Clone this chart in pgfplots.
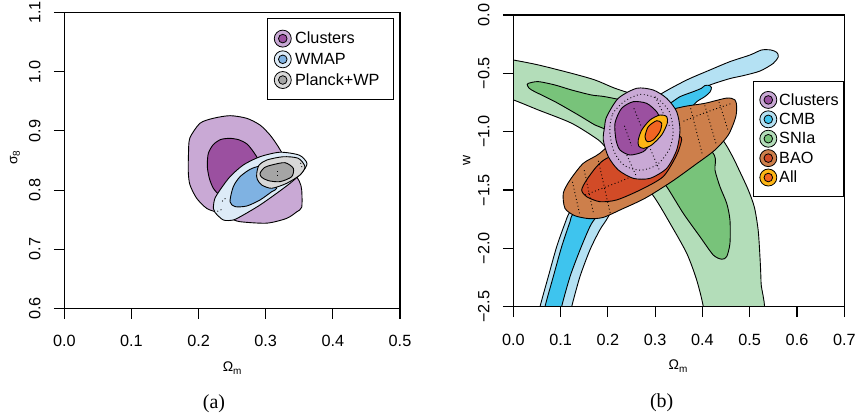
\documentclass[border=0pt]{standalone}
\usepackage{fontspec}
\setmainfont{Liberation Sans}
\newfontfamily\seriffont{Liberation Serif}
\usepackage{pgfplots}
\pgfplotsset{compat=1.18}

\definecolor{clO}{HTML}{C9A9D5}
\definecolor{clI}{HTML}{9B50A0}
\definecolor{wmO}{HTML}{DDEBF7}
\definecolor{wmI}{HTML}{7FB2E2}
\definecolor{plO}{HTML}{D8D8D8}
\definecolor{plI}{HTML}{A5A5A5}
\definecolor{cmO}{HTML}{B4E1F3}
\definecolor{cmI}{HTML}{3EC4EE}
\definecolor{snO}{HTML}{B3DDB9}
\definecolor{snI}{HTML}{78C37A}
\definecolor{baO}{HTML}{CD7F4B}
\definecolor{baI}{HTML}{D24B27}
\definecolor{alO}{HTML}{FDB515}
\definecolor{alI}{HTML}{F26522}

\pgfplotsset{
  myaxis/.style={
    scale only axis,
    axis on top,
    axis line style={line width=1.1bp},
    every tick/.style={line width=1.1bp, black},
    tick align=outside,
    major tick length=10.5bp,
    tick pos=left,
    ticklabel style={font=\fontsize{16.3}{19}\selectfont},
    xticklabel style={anchor=center},
    xticklabel shift=22.5bp,
    yticklabel style={anchor=center, rotate=90},
    yticklabel shift=19bp,
    label style={font=\fontsize{14}{16}\selectfont},
  },
  ct/.style={draw=black, line width=0.9bp, fill=#1, smooth cycle, tension=0.45},
  dt/.style={draw=black, line width=0.9bp, dash pattern=on 0.9bp off 2.6bp},
  lgimg/.style 2 args={legend image code/.code={
     \draw[line width=0.8bp, fill=#1] (0bp,0bp) circle (8.5bp);
     \draw[line width=0.8bp, fill=#2] (0bp,0bp) circle (4.3bp);}},
}

\begin{document}
\begin{tikzpicture}
% ---------------- panel (a)
\begin{axis}[myaxis,
  at={(64.3bp,110.7bp)}, anchor=south west,
  width=335.7bp, height=295.6bp,
  xmin=0, xmax=0.5, ymin=0.6, ymax=1.1,
  xtick={0,0.1,0.2,0.3,0.4,0.5},
  xticklabels={0.0,0.1,0.2,0.3,0.4,0.5},
  ytick={0.6,0.7,0.8,0.9,1.0,1.1},
  yticklabels={0.6,0.7,0.8,0.9,1.0,1.1},
  xlabel={Ω\raisebox{-0.35ex}{\fontsize{10}{10}\selectfont m}},
  xlabel style={at={(axis description cs:0.5,-0.2030)}, anchor=center},
  ylabel={σ\raisebox{-0.35ex}{\fontsize{10}{10}\selectfont 8}},
  ylabel style={at={(axis description cs:-0.1469,0.51)}, anchor=center},
  legend style={at={(0.982,0.981)}, anchor=north east, draw=black, line width=1bp,
    fill=white, font=\fontsize{16.3}{19}\selectfont,
    inner xsep=6bp, inner ysep=10.9bp, column sep=1.5bp, row sep=2.9bp},
  legend cell align=left,
]
\addlegendimage{lgimg={clO}{clI}}
\addlegendimage{lgimg={wmO}{wmI}}
\addlegendimage{lgimg={plO}{plI}}
\legend{\makebox[90.3bp][l]{Clusters},\makebox[90.3bp][l]{WMAP},\makebox[90.3bp][l]{Planck+WP}}

% Clusters
\addplot[ct=clO] coordinates {(0.1847,0.830)(0.1850,0.862)(0.1870,0.888)(0.2021,0.913)(0.2220,0.9214)(0.2468,0.9258)(0.2717,0.9214)(0.2915,0.910)(0.3064,0.8931)(0.3187,0.8733)(0.336,0.840)(0.350,0.815)(0.3536,0.800)(0.3536,0.771)(0.346,0.763)(0.331,0.752)(0.3015,0.744)(0.2617,0.7465)(0.248,0.752)(0.228,0.762)(0.2121,0.769)(0.1972,0.786)(0.1872,0.8086)};
\addplot[ct=clI] coordinates {(0.213,0.84)(0.2145,0.862)(0.222,0.877)(0.2330,0.8855)(0.2468,0.8875)(0.2600,0.8850)(0.2720,0.878)(0.2815,0.865)(0.290,0.848)(0.288,0.825)(0.270,0.805)(0.245,0.795)(0.2319,0.7917)(0.222,0.803)(0.216,0.82)};
% WMAP
\addplot[ct=wmO] coordinates {(0.222,0.769)(0.2245,0.762)(0.2368,0.7494)(0.2517,0.7494)(0.2666,0.7578)(0.2915,0.7747)(0.3163,0.7945)(0.3362,0.8114)(0.3536,0.829)(0.3615,0.845)(0.3500,0.8590)(0.3213,0.8640)(0.2915,0.8564)(0.2666,0.8424)(0.2468,0.8226)(0.2319,0.8001)(0.2240,0.785)};
\addplot[ct=wmI] coordinates {(0.2468,0.7803)(0.2517,0.8057)(0.2617,0.8226)(0.2766,0.8350)(0.2900,0.8400)(0.300,0.835)(0.312,0.82)(0.3163,0.803)(0.3089,0.7972)(0.2915,0.7832)(0.2717,0.7730)(0.2543,0.7720)};
\addplot[dt] coordinates {(0.235,0.781)(0.242,0.788)};
\addplot[dt] coordinates {(0.228,0.764)(0.236,0.768)};
% Planck+WP
\addplot[ct=plO] coordinates {(0.2866,0.8283)(0.2900,0.842)(0.3015,0.8508)(0.3262,0.8564)(0.3485,0.8537)(0.3585,0.8395)(0.3510,0.8255)(0.3312,0.8114)(0.3089,0.8030)(0.2940,0.8086)(0.2874,0.8182)};
\addplot[ct=plI] coordinates {(0.2915,0.8283)(0.2980,0.838)(0.3089,0.8424)(0.3287,0.8463)(0.3411,0.8368)(0.3387,0.8226)(0.3213,0.8142)(0.3039,0.8159)(0.2940,0.8216)};
\addplot[dt] coordinates {(0.318,0.832)(0.318,0.824)};
\addplot[dt] coordinates {(0.352,0.846)(0.354,0.838)};
\end{axis}

% ---------------- panel (b)
\begin{axis}[myaxis,
  at={(513.3bp,112.3bp)}, anchor=south west,
  width=331bp, height=291.7bp,
  xmin=0, xmax=0.7, ymin=-2.5, ymax=0,
  xtick={0,0.1,0.2,0.3,0.4,0.5,0.6,0.7},
  xticklabels={0.0,0.1,0.2,0.3,0.4,0.5,0.6,0.7},
  ytick={-2.5,-2,-1.5,-1,-0.5,0},
  yticklabels={−2.5,−2.0,−1.5,−1.0,−0.5,0.0},
  xlabel={Ω\raisebox{-0.35ex}{\fontsize{10}{10}\selectfont m}},
  xlabel style={at={(axis description cs:0.4976,-0.2030)}, anchor=center},
  ylabel={w},
  ylabel style={at={(axis description cs:-0.1408,0.50)}, anchor=center},
  legend style={at={(1,0.774)}, anchor=north east, draw=black, line width=1bp,
    fill=white, font=\fontsize{16.3}{19}\selectfont,
    inner xsep=6bp, inner ysep=9.6bp, column sep=0bp, row sep=1.6bp},
  legend cell align=left,
]
\addlegendimage{lgimg={clO}{clI}}
\addlegendimage{lgimg={cmO}{cmI}}
\addlegendimage{lgimg={snO}{snI}}
\addlegendimage{lgimg={baO}{baI}}
\addlegendimage{lgimg={alO}{alI}}
\legend{\makebox[56.6bp][l]{Clusters},\makebox[56.6bp][l]{CMB},\makebox[56.6bp][l]{SNIa},\makebox[56.6bp][l]{BAO},\makebox[56.6bp][l]{All}}

% SNIa
\addplot[ct=snO] coordinates {(-0.02,-0.38)(0,-0.386)(0.0529,-0.428)(0.1235,-0.5)(0.1728,-0.557)(0.215,-0.628)(0.28,-0.72)(0.33,-0.85)(0.40,-0.98)(0.44,-1.06)(0.462,-1.20)(0.48,-1.35)(0.497,-1.5)(0.51,-1.65)(0.518,-1.85)(0.522,-2.1)(0.524,-2.3)(0.525,-2.6)(0.40,-2.6)(0.4018,-2.5)(0.3878,-2.271)(0.3667,-2.042)(0.3314,-1.785)(0.2997,-1.571)(0.25,-1.3)(0.2009,-1.157)(0.18,-1.071)(0.1235,-0.928)(0.0529,-0.814)(0,-0.728)(-0.02,-0.72)};
\addplot[ct=snI] coordinates {(0.0317,-0.586)(0.0529,-0.571)(0.0882,-0.600)(0.1235,-0.643)(0.1658,-0.686)(0.1939,-0.700)(0.25,-0.75)(0.33,-0.86)(0.38,-1.0)(0.425,-1.20)(0.4265,-1.328)(0.437,-1.471)(0.4513,-1.614)(0.4582,-1.757)(0.4582,-1.957)(0.4513,-2.071)(0.4407,-2.093)(0.4229,-2.057)(0.3948,-1.900)(0.3595,-1.700)(0.3244,-1.471)(0.30,-1.35)(0.25,-1.1)(0.190,-0.971)(0.1728,-0.943)(0.1375,-0.857)(0.0882,-0.743)(0.0389,-0.643)(0.030,-0.605)};
% CMB
\addplot[ct=cmO] coordinates {(0.053,-2.6)(0.0565,-2.5)(0.074,-2.242)(0.0918,-1.985)(0.1093,-1.785)(0.12,-1.685)(0.16,-1.45)(0.21,-1.2)(0.25,-1.0)(0.29,-0.75)(0.315,-0.67)(0.3667,-0.557)(0.416,-0.471)(0.458,-0.400)(0.5005,-0.343)(0.525,-0.300)(0.545,-0.300)(0.557,-0.320)(0.5604,-0.357)(0.55,-0.414)(0.522,-0.480)(0.486,-0.520)(0.458,-0.545)(0.416,-0.600)(0.3806,-0.671)(0.3595,-0.728)(0.33,-0.85)(0.27,-1.2)(0.23,-1.5)(0.201,-1.728)(0.183,-1.842)(0.162,-2.014)(0.141,-2.242)(0.1235,-2.5)(0.12,-2.6)};
\addplot[ct=cmI] coordinates {(0.065,-2.6)(0.067,-2.5)(0.0846,-2.242)(0.1023,-1.985)(0.12,-1.771)(0.127,-1.70)(0.18,-1.4)(0.25,-1.0)(0.30,-0.80)(0.331,-0.757)(0.3525,-0.700)(0.3806,-0.657)(0.398,-0.628)(0.405,-0.605)(0.414,-0.603)(0.419,-0.622)(0.416,-0.660)(0.405,-0.700)(0.388,-0.743)(0.37,-0.82)(0.30,-1.1)(0.22,-1.5)(0.176,-1.728)(0.162,-1.814)(0.141,-2.014)(0.12,-2.242)(0.1023,-2.5)(0.101,-2.6)};
% BAO
\addplot[ct=baO] coordinates {(0.1057,-1.528)(0.1093,-1.657)(0.1300,-1.720)(0.1600,-1.745)(0.1900,-1.735)(0.229,-1.665)(0.2785,-1.571)(0.335,-1.428)(0.3842,-1.285)(0.4265,-1.157)(0.4547,-1.028)(0.4700,-0.880)(0.4724,-0.786)(0.4688,-0.728)(0.4513,-0.712)(0.405,-0.757)(0.3595,-0.786)(0.30,-0.85)(0.24,-0.98)(0.183,-1.185)(0.148,-1.271)(0.12,-1.414)};
\addplot[ct=baI] coordinates {(0.1446,-1.500)(0.155,-1.557)(0.183,-1.600)(0.2187,-1.585)(0.268,-1.500)(0.317,-1.385)(0.3455,-1.200)(0.356,-1.070)(0.352,-1.040)(0.338,-1.043)(0.30,-1.08)(0.25,-1.15)(0.1975,-1.228)(0.176,-1.300)(0.155,-1.414)};
\addplot[dt] coordinates {(0.36,-0.91)(0.41,-0.83)(0.462,-0.757)};
\addplot[dt] coordinates {(0.375,-0.80)(0.400,-1.20)};
\addplot[dt] coordinates {(0.405,-0.775)(0.430,-1.12)};
\addplot[dt] coordinates {(0.435,-0.745)(0.455,-1.00)};
\addplot[dt] coordinates {(0.125,-1.43)(0.140,-1.70)};
\addplot[dt] coordinates {(0.150,-1.33)(0.170,-1.71)};
\addplot[dt] coordinates {(0.180,-1.25)(0.205,-1.70)};
\addplot[dt] coordinates {(0.152,-1.542)(0.23,-1.42)(0.32,-1.26)};
% Clusters
\addplot[ct=clO] coordinates {(0.1903,-1.071)(0.1930,-0.960)(0.1975,-0.871)(0.222,-0.714)(0.261,-0.628)(0.296,-0.643)(0.3244,-0.714)(0.3455,-0.828)(0.3525,-0.985)(0.3455,-1.157)(0.3244,-1.314)(0.289,-1.400)(0.2538,-1.400)(0.222,-1.328)(0.2009,-1.214)};
\addplot[dt, smooth cycle] coordinates {(0.204,-1.0)(0.21,-0.85)(0.235,-0.74)(0.27,-0.68)(0.305,-0.72)(0.33,-0.83)(0.338,-1.0)(0.33,-1.15)(0.305,-1.28)(0.27,-1.33)(0.235,-1.29)(0.213,-1.17)};
\addplot[dt] coordinates {(0.24,-1.20)(0.26,-1.38)};
\addplot[dt] coordinates {(0.29,-1.15)(0.31,-1.34)};
\addplot[dt] coordinates {(0.30,-0.70)(0.33,-0.95)};
\addplot[ct=clI] coordinates {(0.2150,-0.928)(0.2290,-0.800)(0.2538,-0.743)(0.2820,-0.757)(0.3030,-0.828)(0.31,-0.9)(0.30,-1.0)(0.29,-1.1)(0.275,-1.171)(0.2468,-1.200)(0.2256,-1.157)(0.2172,-1.071)};
\addplot[dt] coordinates {(0.235,-0.95)(0.25,-1.12)};
\addplot[dt] coordinates {(0.255,-0.80)(0.27,-0.95)};
% All
\addplot[ct=alO] coordinates {(0.2643,-1.071)(0.2715,-0.986)(0.2890,-0.900)(0.3100,-0.857)(0.3244,-0.871)(0.3256,-0.928)(0.3138,-1.028)(0.2927,-1.114)(0.2750,-1.143)(0.2652,-1.123)};
\addplot[ct=alI] coordinates {(0.2785,-1.043)(0.2855,-0.957)(0.3032,-0.906)(0.3138,-0.928)(0.3100,-1.000)(0.2960,-1.071)(0.2834,-1.086)};
\end{axis}

\node[font=\seriffont\fontsize{20}{22}\selectfont] at (214bp,15bp) {(a)};
\node[font=\seriffont\fontsize{20}{22}\selectfont] at (661.7bp,16bp) {(b)};
\pgfresetboundingbox
\path[use as bounding box] (0,0) rectangle (856bp,419bp);
\end{tikzpicture}
\end{document}
